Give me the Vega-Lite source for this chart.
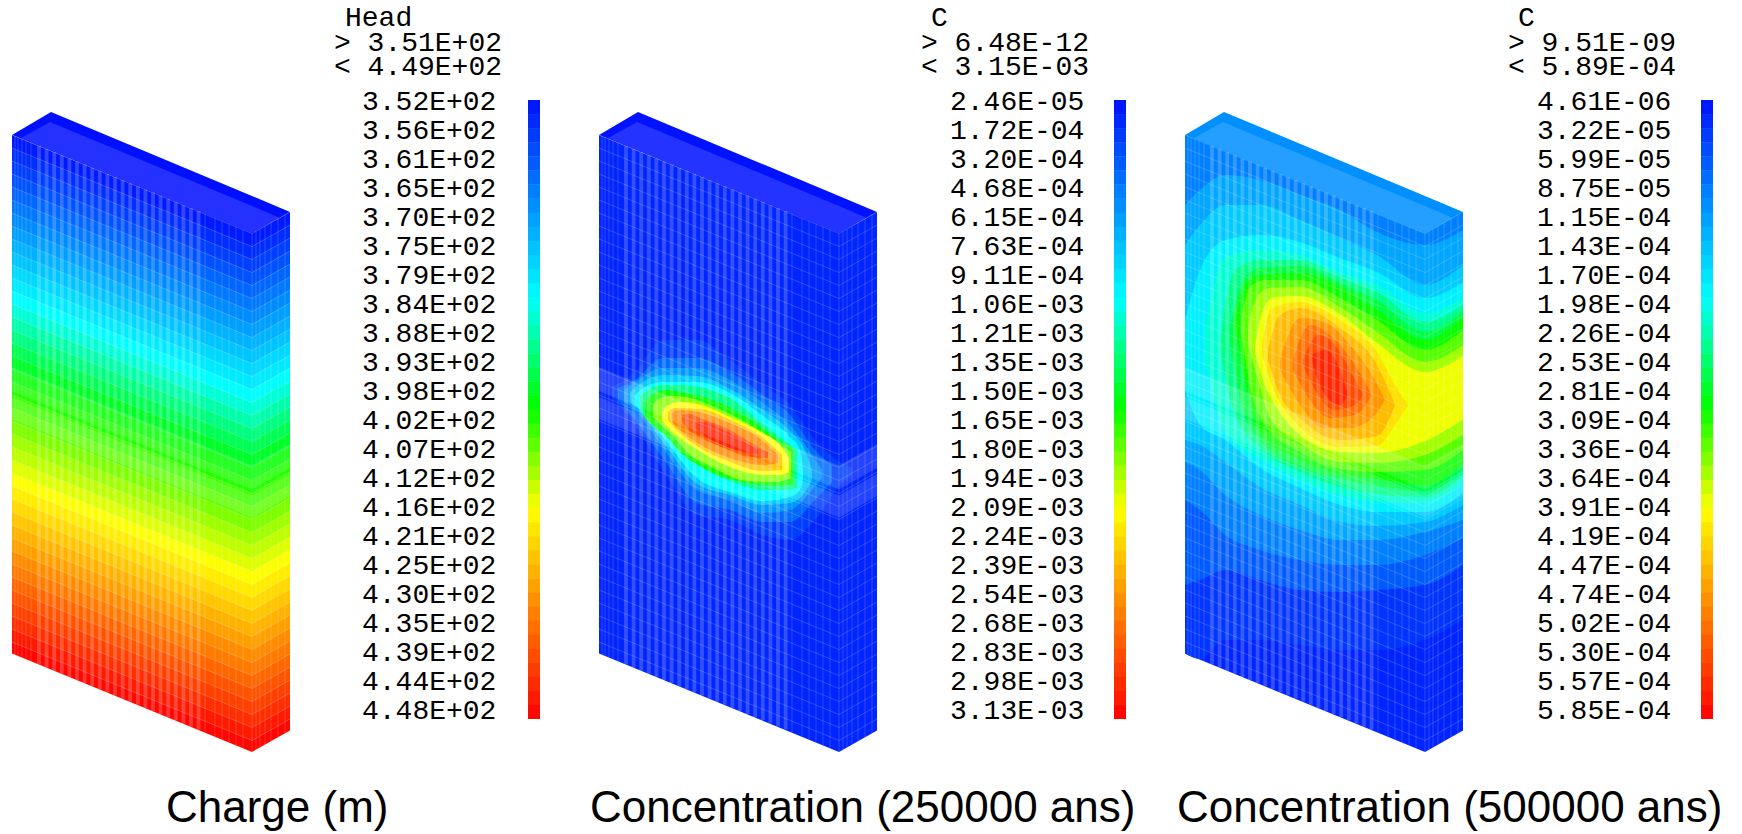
{"$schema":"https://vega.github.io/schema/vega-lite/v6.json","width":1742,"height":834,"autosize":{"type":"fit","contains":"padding"},"padding":0,"background":"#ffffff","config":{"view":{"stroke":null}},
"datasets":{
"grid":[
{"k":0,"x1":12,"x2":599,"x3":1185,"y":135,"y2":148.5,"v":352.3},{"k":0,"x1":252,"x2":839,"x3":1425,"y":233.5,"y2":247,"v":352.3},{"k":0,"x1":290,"x2":877,"x3":1463,"y":212,"y2":225.5,"v":352.3},
{"k":1,"x1":12,"x2":599,"x3":1185,"y":148,"y2":161.5,"v":354.7},{"k":1,"x1":252,"x2":839,"x3":1425,"y":246.5,"y2":260,"v":354.7},{"k":1,"x1":290,"x2":877,"x3":1463,"y":225,"y2":238.5,"v":354.7},
{"k":2,"x1":12,"x2":599,"x3":1185,"y":161,"y2":174.5,"v":357.2},{"k":2,"x1":252,"x2":839,"x3":1425,"y":259.5,"y2":273,"v":357.2},{"k":2,"x1":290,"x2":877,"x3":1463,"y":238,"y2":251.5,"v":357.2},
{"k":3,"x1":12,"x2":599,"x3":1185,"y":174,"y2":187.5,"v":359.7},{"k":3,"x1":252,"x2":839,"x3":1425,"y":272.5,"y2":286,"v":359.7},{"k":3,"x1":290,"x2":877,"x3":1463,"y":251,"y2":264.5,"v":359.7},
{"k":4,"x1":12,"x2":599,"x3":1185,"y":187,"y2":200.5,"v":362.3},{"k":4,"x1":252,"x2":839,"x3":1425,"y":285.5,"y2":299,"v":362.3},{"k":4,"x1":290,"x2":877,"x3":1463,"y":264,"y2":277.5,"v":362.3},
{"k":5,"x1":12,"x2":599,"x3":1185,"y":200,"y2":213.5,"v":364.7},{"k":5,"x1":252,"x2":839,"x3":1425,"y":298.5,"y2":312,"v":364.7},{"k":5,"x1":290,"x2":877,"x3":1463,"y":277,"y2":290.5,"v":364.7},
{"k":6,"x1":12,"x2":599,"x3":1185,"y":213,"y2":226.5,"v":367.3},{"k":6,"x1":252,"x2":839,"x3":1425,"y":311.5,"y2":325,"v":367.3},{"k":6,"x1":290,"x2":877,"x3":1463,"y":290,"y2":303.5,"v":367.3},
{"k":7,"x1":12,"x2":599,"x3":1185,"y":226,"y2":239.5,"v":369.7},{"k":7,"x1":252,"x2":839,"x3":1425,"y":324.5,"y2":338,"v":369.7},{"k":7,"x1":290,"x2":877,"x3":1463,"y":303,"y2":316.5,"v":369.7},
{"k":8,"x1":12,"x2":599,"x3":1185,"y":239,"y2":252.5,"v":372.3},{"k":8,"x1":252,"x2":839,"x3":1425,"y":337.5,"y2":351,"v":372.3},{"k":8,"x1":290,"x2":877,"x3":1463,"y":316,"y2":329.5,"v":372.3},
{"k":9,"x1":12,"x2":599,"x3":1185,"y":252,"y2":265.5,"v":374.7},{"k":9,"x1":252,"x2":839,"x3":1425,"y":350.5,"y2":364,"v":374.7},{"k":9,"x1":290,"x2":877,"x3":1463,"y":329,"y2":342.5,"v":374.7},
{"k":10,"x1":12,"x2":599,"x3":1185,"y":265,"y2":278.5,"v":377.3},{"k":10,"x1":252,"x2":839,"x3":1425,"y":363.5,"y2":377,"v":377.3},{"k":10,"x1":290,"x2":877,"x3":1463,"y":342,"y2":355.5,"v":377.3},
{"k":11,"x1":12,"x2":599,"x3":1185,"y":278,"y2":291.5,"v":379.7},{"k":11,"x1":252,"x2":839,"x3":1425,"y":376.5,"y2":390,"v":379.7},{"k":11,"x1":290,"x2":877,"x3":1463,"y":355,"y2":368.5,"v":379.7},
{"k":12,"x1":12,"x2":599,"x3":1185,"y":291,"y2":304.5,"v":382.3},{"k":12,"x1":252,"x2":839,"x3":1425,"y":389.5,"y2":403,"v":382.3},{"k":12,"x1":290,"x2":877,"x3":1463,"y":368,"y2":381.5,"v":382.3},
{"k":13,"x1":12,"x2":599,"x3":1185,"y":304,"y2":317.5,"v":385.1},{"k":13,"x1":252,"x2":839,"x3":1425,"y":402.5,"y2":416,"v":385.1},{"k":13,"x1":290,"x2":877,"x3":1463,"y":381,"y2":394.5,"v":385.1},
{"k":14,"x1":12,"x2":599,"x3":1185,"y":317,"y2":330.5,"v":388},{"k":14,"x1":252,"x2":839,"x3":1425,"y":415.5,"y2":429,"v":388},{"k":14,"x1":290,"x2":877,"x3":1463,"y":394,"y2":407.5,"v":388},
{"k":15,"x1":12,"x2":599,"x3":1185,"y":330,"y2":343.5,"v":390.9},{"k":15,"x1":252,"x2":839,"x3":1425,"y":428.5,"y2":442,"v":390.9},{"k":15,"x1":290,"x2":877,"x3":1463,"y":407,"y2":420.5,"v":390.9},
{"k":16,"x1":12,"x2":599,"x3":1185,"y":343,"y2":356.5,"v":393.8},{"k":16,"x1":252,"x2":839,"x3":1425,"y":441.5,"y2":455,"v":393.8},{"k":16,"x1":290,"x2":877,"x3":1463,"y":420,"y2":433.5,"v":393.8},
{"k":17,"x1":12,"x2":599,"x3":1185,"y":356,"y2":369.5,"v":396.8},{"k":17,"x1":252,"x2":839,"x3":1425,"y":454.5,"y2":468,"v":396.8},{"k":17,"x1":290,"x2":877,"x3":1463,"y":433,"y2":446.5,"v":396.8},
{"k":18,"x1":12,"x2":599,"x3":1185,"y":369,"y2":382.5,"v":399.6},{"k":18,"x1":252,"x2":839,"x3":1425,"y":467.5,"y2":481,"v":399.6},{"k":18,"x1":290,"x2":877,"x3":1463,"y":446,"y2":459.5,"v":399.6},
{"k":19,"x1":12,"x2":599,"x3":1185,"y":382,"y2":395.5,"v":401.6},{"k":19,"x1":252,"x2":839,"x3":1425,"y":480.5,"y2":494,"v":401.6},{"k":19,"x1":290,"x2":877,"x3":1463,"y":459,"y2":472.5,"v":401.6},
{"k":20,"x1":12,"x2":599,"x3":1185,"y":395,"y2":408.5,"v":403.6},{"k":20,"x1":252,"x2":839,"x3":1425,"y":493.5,"y2":507,"v":403.6},{"k":20,"x1":290,"x2":877,"x3":1463,"y":472,"y2":485.5,"v":403.6},
{"k":21,"x1":12,"x2":599,"x3":1185,"y":408,"y2":421.5,"v":405.6},{"k":21,"x1":252,"x2":839,"x3":1425,"y":506.5,"y2":520,"v":405.6},{"k":21,"x1":290,"x2":877,"x3":1463,"y":485,"y2":498.5,"v":405.6},
{"k":22,"x1":12,"x2":599,"x3":1185,"y":421,"y2":434.5,"v":407.5},{"k":22,"x1":252,"x2":839,"x3":1425,"y":519.5,"y2":533,"v":407.5},{"k":22,"x1":290,"x2":877,"x3":1463,"y":498,"y2":511.5,"v":407.5},
{"k":23,"x1":12,"x2":599,"x3":1185,"y":434,"y2":447.5,"v":409.6},{"k":23,"x1":252,"x2":839,"x3":1425,"y":532.5,"y2":546,"v":409.6},{"k":23,"x1":290,"x2":877,"x3":1463,"y":511,"y2":524.5,"v":409.6},
{"k":24,"x1":12,"x2":599,"x3":1185,"y":447,"y2":460.5,"v":411.6},{"k":24,"x1":252,"x2":839,"x3":1425,"y":545.5,"y2":559,"v":411.6},{"k":24,"x1":290,"x2":877,"x3":1463,"y":524,"y2":537.5,"v":411.6},
{"k":25,"x1":12,"x2":599,"x3":1185,"y":460,"y2":473.5,"v":413.6},{"k":25,"x1":252,"x2":839,"x3":1425,"y":558.5,"y2":572,"v":413.6},{"k":25,"x1":290,"x2":877,"x3":1463,"y":537,"y2":550.5,"v":413.6},
{"k":26,"x1":12,"x2":599,"x3":1185,"y":473,"y2":486.5,"v":415.6},{"k":26,"x1":252,"x2":839,"x3":1425,"y":571.5,"y2":585,"v":415.6},{"k":26,"x1":290,"x2":877,"x3":1463,"y":550,"y2":563.5,"v":415.6},
{"k":27,"x1":12,"x2":599,"x3":1185,"y":486,"y2":499.5,"v":418.1},{"k":27,"x1":252,"x2":839,"x3":1425,"y":584.5,"y2":598,"v":418.1},{"k":27,"x1":290,"x2":877,"x3":1463,"y":563,"y2":576.5,"v":418.1},
{"k":28,"x1":12,"x2":599,"x3":1185,"y":499,"y2":512.5,"v":420.6},{"k":28,"x1":252,"x2":839,"x3":1425,"y":597.5,"y2":611,"v":420.6},{"k":28,"x1":290,"x2":877,"x3":1463,"y":576,"y2":589.5,"v":420.6},
{"k":29,"x1":12,"x2":599,"x3":1185,"y":512,"y2":525.5,"v":423.1},{"k":29,"x1":252,"x2":839,"x3":1425,"y":610.5,"y2":624,"v":423.1},{"k":29,"x1":290,"x2":877,"x3":1463,"y":589,"y2":602.5,"v":423.1},
{"k":30,"x1":12,"x2":599,"x3":1185,"y":525,"y2":538.5,"v":425.6},{"k":30,"x1":252,"x2":839,"x3":1425,"y":623.5,"y2":637,"v":425.6},{"k":30,"x1":290,"x2":877,"x3":1463,"y":602,"y2":615.5,"v":425.6},
{"k":31,"x1":12,"x2":599,"x3":1185,"y":538,"y2":551.5,"v":428.1},{"k":31,"x1":252,"x2":839,"x3":1425,"y":636.5,"y2":650,"v":428.1},{"k":31,"x1":290,"x2":877,"x3":1463,"y":615,"y2":628.5,"v":428.1},
{"k":32,"x1":12,"x2":599,"x3":1185,"y":551,"y2":564.5,"v":430.7},{"k":32,"x1":252,"x2":839,"x3":1425,"y":649.5,"y2":663,"v":430.7},{"k":32,"x1":290,"x2":877,"x3":1463,"y":628,"y2":641.5,"v":430.7},
{"k":33,"x1":12,"x2":599,"x3":1185,"y":564,"y2":577.5,"v":433.1},{"k":33,"x1":252,"x2":839,"x3":1425,"y":662.5,"y2":676,"v":433.1},{"k":33,"x1":290,"x2":877,"x3":1463,"y":641,"y2":654.5,"v":433.1},
{"k":34,"x1":12,"x2":599,"x3":1185,"y":577,"y2":590.5,"v":435.7},{"k":34,"x1":252,"x2":839,"x3":1425,"y":675.5,"y2":689,"v":435.7},{"k":34,"x1":290,"x2":877,"x3":1463,"y":654,"y2":667.5,"v":435.7},
{"k":35,"x1":12,"x2":599,"x3":1185,"y":590,"y2":603.5,"v":438.1},{"k":35,"x1":252,"x2":839,"x3":1425,"y":688.5,"y2":702,"v":438.1},{"k":35,"x1":290,"x2":877,"x3":1463,"y":667,"y2":680.5,"v":438.1},
{"k":36,"x1":12,"x2":599,"x3":1185,"y":603,"y2":616.5,"v":440.7},{"k":36,"x1":252,"x2":839,"x3":1425,"y":701.5,"y2":715,"v":440.7},{"k":36,"x1":290,"x2":877,"x3":1463,"y":680,"y2":693.5,"v":440.7},
{"k":37,"x1":12,"x2":599,"x3":1185,"y":616,"y2":629.5,"v":443.1},{"k":37,"x1":252,"x2":839,"x3":1425,"y":714.5,"y2":728,"v":443.1},{"k":37,"x1":290,"x2":877,"x3":1463,"y":693,"y2":706.5,"v":443.1},
{"k":38,"x1":12,"x2":599,"x3":1185,"y":629,"y2":642.5,"v":445.7},{"k":38,"x1":252,"x2":839,"x3":1425,"y":727.5,"y2":741,"v":445.7},{"k":38,"x1":290,"x2":877,"x3":1463,"y":706,"y2":719.5,"v":445.7},
{"k":39,"x1":12,"x2":599,"x3":1185,"y":642,"y2":653.5,"v":448.1},{"k":39,"x1":252,"x2":839,"x3":1425,"y":740.5,"y2":752,"v":448.1},{"k":39,"x1":290,"x2":877,"x3":1463,"y":719,"y2":730.5,"v":448.1}
],
"base":[
{"x1":12,"x2":599,"x3":1185,"y":135,"y2":653.5,"v2":9e-5,"v3":1.6e-5},
{"x1":252,"x2":839,"x3":1425,"y":233.5,"y2":752,"v2":9e-5,"v3":1.6e-5},
{"x1":290,"x2":877,"x3":1463,"y":212,"y2":730.5,"v2":9e-5,"v3":1.6e-5}
],
"top":[
{"x1":12,"x2":599,"x3":1185,"y":135,"y2":135,"v1":351,"v2":1e-5,"v3":1e-4},
{"x1":51,"x2":638,"x3":1224,"y":112,"y2":151,"v1":351,"v2":1e-5,"v3":1e-4},
{"x1":252,"x2":839,"x3":1425,"y":196,"y2":234,"v1":351,"v2":1e-5,"v3":1e-4},
{"x1":290,"x2":877,"x3":1463,"y":212,"y2":212,"v1":351,"v2":1e-5,"v3":1e-4}
],
"overlay":[
{"s":"inner","x1":21,"x2":608,"x3":1194,"y":138,"y2":138},{"s":"inner","x1":50,"x2":637,"x3":1223,"y":122,"y2":150},{"s":"inner","x1":252,"x2":839,"x3":1425,"y":206,"y2":233},{"s":"inner","x1":280,"x2":867,"x3":1453,"y":218,"y2":218},
{"s":"zone1","x1":12,"x2":599,"x3":1185,"y":367,"y2":391},{"s":"zone1","x1":252,"x2":839,"x3":1425,"y":465.5,"y2":489.5},{"s":"zone1","x1":290,"x2":877,"x3":1463,"y":444,"y2":468},
{"s":"zone2","x1":12,"x2":599,"x3":1185,"y":397,"y2":419},{"s":"zone2","x1":252,"x2":839,"x3":1425,"y":495.5,"y2":517.5},{"s":"zone2","x1":290,"x2":877,"x3":1463,"y":474,"y2":496}
],
"stripes":[
{"x1":39,"x2":626,"x3":1212,"y":146,"y2":664.5},{"x1":46.6,"x2":633.6,"x3":1219.6,"y":149.1,"y2":667.6},{"x1":54.2,"x2":641.2,"x3":1227.2,"y":152.2,"y2":670.7},{"x1":61.8,"x2":648.8,"x3":1234.8,"y":155.3,"y2":673.8},{"x1":69.4,"x2":656.4,"x3":1242.4,"y":158.4,"y2":676.9},{"x1":77,"x2":664,"x3":1250,"y":161.5,"y2":680},{"x1":84.6,"x2":671.6,"x3":1257.6,"y":164.6,"y2":683.1},{"x1":92.2,"x2":679.2,"x3":1265.2,"y":167.7,"y2":686.2},{"x1":99.8,"x2":686.8,"x3":1272.8,"y":170.8,"y2":689.3},{"x1":107.4,"x2":694.4,"x3":1280.4,"y":173.9,"y2":692.4},{"x1":115,"x2":702,"x3":1288,"y":177,"y2":695.5},{"x1":122.6,"x2":709.6,"x3":1295.6,"y":180.1,"y2":698.6},{"x1":130.2,"x2":717.2,"x3":1303.2,"y":183.2,"y2":701.7},{"x1":137.8,"x2":724.8,"x3":1310.8,"y":186.3,"y2":704.8},{"x1":145.4,"x2":732.4,"x3":1318.4,"y":189.4,"y2":707.9},{"x1":153,"x2":740,"x3":1326,"y":192.5,"y2":711},{"x1":160.6,"x2":747.6,"x3":1333.6,"y":195.6,"y2":714.1},{"x1":168.2,"x2":755.2,"x3":1341.2,"y":198.7,"y2":717.2},{"x1":175.8,"x2":762.8,"x3":1348.8,"y":201.8,"y2":720.3},{"x1":183.4,"x2":770.4,"x3":1356.4,"y":204.9,"y2":723.4},{"x1":191,"x2":778,"x3":1364,"y":208,"y2":726.5},{"x1":198.6,"x2":785.6,"x3":1371.6,"y":211.1,"y2":729.6}
],
"lines":[
{"x1":15,"x2":602,"x3":1188,"y":136.2,"y2":654.7},{"x1":18,"x2":605,"x3":1191,"y":137.4,"y2":655.9},{"x1":22,"x2":609,"x3":1195,"y":139.1,"y2":657.6},{"x1":26,"x2":613,"x3":1199,"y":140.7,"y2":659.2},{"x1":31,"x2":618,"x3":1204,"y":142.8,"y2":661.3},
{"x1":205,"x2":792,"x3":1378,"y":213.7,"y2":732.2},{"x1":215,"x2":802,"x3":1388,"y":217.8,"y2":736.3},{"x1":222,"x2":809,"x3":1395,"y":220.7,"y2":739.2},{"x1":229,"x2":816,"x3":1402,"y":223.5,"y2":742},{"x1":236,"x2":823,"x3":1409,"y":226.4,"y2":744.9},{"x1":243,"x2":830,"x3":1416,"y":229.2,"y2":747.7},{"x1":252,"x2":839,"x3":1425,"y":233.5,"y2":752},
{"x1":256,"x2":843,"x3":1429,"y":231.2,"y2":749.7},{"x1":260,"x2":847,"x3":1433,"y":229,"y2":747.5},{"x1":265,"x2":852,"x3":1438,"y":226.1,"y2":744.6},{"x1":271,"x2":858,"x3":1444,"y":222.7,"y2":741.2},{"x1":278,"x2":865,"x3":1451,"y":218.8,"y2":737.3},{"x1":285,"x2":872,"x3":1458,"y":214.8,"y2":733.3}
],
"bar":[
{"y":100,"y2":114.5,"t":0.011},{"y":114.07,"y2":128.6,"t":0.034},{"y":128.14,"y2":142.6,"t":0.057},{"y":142.21,"y2":156.7,"t":0.08},{"y":156.28,"y2":170.8,"t":0.102},{"y":170.35,"y2":184.8,"t":0.125},{"y":184.42,"y2":198.9,"t":0.148},{"y":198.49,"y2":213,"t":0.17},{"y":212.56,"y2":227,"t":0.193},{"y":226.63,"y2":241.1,"t":0.216},{"y":240.7,"y2":255.2,"t":0.239},{"y":254.77,"y2":269.3,"t":0.261},{"y":268.84,"y2":283.3,"t":0.284},{"y":282.91,"y2":297.4,"t":0.307},{"y":296.98,"y2":311.5,"t":0.33},{"y":311.05,"y2":325.5,"t":0.352},{"y":325.12,"y2":339.6,"t":0.375},{"y":339.19,"y2":353.7,"t":0.398},{"y":353.26,"y2":367.8,"t":0.42},{"y":367.33,"y2":381.8,"t":0.443},{"y":381.4,"y2":395.9,"t":0.466},{"y":395.47,"y2":410,"t":0.489},{"y":409.54,"y2":424,"t":0.511},{"y":423.61,"y2":438.1,"t":0.534},{"y":437.68,"y2":452.2,"t":0.557},{"y":451.75,"y2":466.3,"t":0.58},{"y":465.82,"y2":480.3,"t":0.602},{"y":479.89,"y2":494.4,"t":0.625},{"y":493.96,"y2":508.5,"t":0.648},{"y":508.03,"y2":522.5,"t":0.67},{"y":522.1,"y2":536.6,"t":0.693},{"y":536.17,"y2":550.7,"t":0.716},{"y":550.24,"y2":564.8,"t":0.739},{"y":564.31,"y2":578.8,"t":0.761},{"y":578.38,"y2":592.9,"t":0.784},{"y":592.45,"y2":607,"t":0.807},{"y":606.52,"y2":621,"t":0.83},{"y":620.59,"y2":635.1,"t":0.852},{"y":634.66,"y2":649.2,"t":0.875},{"y":648.73,"y2":663.3,"t":0.898},{"y":662.8,"y2":677.3,"t":0.92},{"y":676.87,"y2":691.4,"t":0.943},{"y":690.94,"y2":705.5,"t":0.966},{"y":705.01,"y2":719,"t":0.989}
],
"c2":[
{"s":"a","x":612,"y":387,"y2":397,"v":1.89e-4},{"s":"a","x":635,"y":372,"y2":425,"v":1.89e-4},{"s":"a","x":663,"y":340,"y2":470,"v":1.89e-4},{"s":"a","x":697,"y":340,"y2":515,"v":1.89e-4},{"s":"a","x":730,"y":360,"y2":520,"v":1.89e-4},{"s":"a","x":763,"y":385,"y2":535,"v":1.89e-4},{"s":"a","x":790,"y":405,"y2":540,"v":1.89e-4},{"s":"a","x":815,"y":440,"y2":520,"v":1.89e-4},{"s":"a","x":840,"y":462,"y2":485,"v":1.89e-4},{"s":"a","x":852,"y":468,"y2":476,"v":1.89e-4},
{"s":"b","x":618,"y":388,"y2":400,"v":3.78e-4},{"s":"b","x":635,"y":380,"y2":420,"v":3.78e-4},{"s":"b","x":663,"y":358,"y2":458,"v":3.78e-4},{"s":"b","x":697,"y":358,"y2":503,"v":3.78e-4},{"s":"b","x":730,"y":372,"y2":510,"v":3.78e-4},{"s":"b","x":763,"y":395,"y2":522,"v":3.78e-4},{"s":"b","x":790,"y":415,"y2":522,"v":3.78e-4},{"s":"b","x":815,"y":450,"y2":500,"v":3.78e-4},{"s":"b","x":832,"y":466,"y2":482,"v":3.78e-4},
{"s":"c","x":624,"y":390,"y2":402,"v":5.67e-4},{"s":"c","x":635,"y":382,"y2":410,"v":5.67e-4},{"s":"c","x":663,"y":368,"y2":448,"v":5.67e-4},{"s":"c","x":697,"y":368,"y2":490,"v":5.67e-4},{"s":"c","x":730,"y":380,"y2":500,"v":5.67e-4},{"s":"c","x":763,"y":403,"y2":513,"v":5.67e-4},{"s":"c","x":790,"y":425,"y2":510,"v":5.67e-4},{"s":"c","x":812,"y":455,"y2":490,"v":5.67e-4},{"s":"c","x":822,"y":470,"y2":478,"v":5.67e-4},
{"s":"d","x":630,"y":392,"y2":402,"v":7.88e-4},{"s":"d","x":640,"y":384,"y2":412,"v":7.88e-4},{"s":"d","x":663,"y":375,"y2":442,"v":7.88e-4},{"s":"d","x":697,"y":376,"y2":484,"v":7.88e-4},{"s":"d","x":730,"y":389,"y2":495,"v":7.88e-4},{"s":"d","x":763,"y":410,"y2":505,"v":7.88e-4},{"s":"d","x":790,"y":431,"y2":503,"v":7.88e-4},{"s":"d","x":805,"y":450,"y2":492,"v":7.88e-4},{"s":"d","x":812,"y":470,"y2":480,"v":7.88e-4},
{"s":"e","x":635,"y":395,"y2":405,"v":1.01e-3},{"s":"e","x":645,"y":387,"y2":415,"v":1.01e-3},{"s":"e","x":663,"y":382,"y2":437,"v":1.01e-3},{"s":"e","x":697,"y":382,"y2":478,"v":1.01e-3},{"s":"e","x":730,"y":393,"y2":492,"v":1.01e-3},{"s":"e","x":763,"y":416,"y2":501,"v":1.01e-3},{"s":"e","x":790,"y":437,"y2":497,"v":1.01e-3},{"s":"e","x":800,"y":450,"y2":490,"v":1.01e-3},{"s":"e","x":803,"y":470,"y2":478,"v":1.01e-3},
{"s":"f","x":640,"y":397,"y2":410,"v":1.26e-3},{"s":"f","x":648,"y":390,"y2":420,"v":1.26e-3},{"s":"f","x":663,"y":385,"y2":432,"v":1.26e-3},{"s":"f","x":680,"y":385,"y2":447,"v":1.26e-3},{"s":"f","x":707,"y":389,"y2":471,"v":1.26e-3},{"s":"f","x":730,"y":398,"y2":481,"v":1.26e-3},{"s":"f","x":763,"y":424,"y2":490,"v":1.26e-3},{"s":"f","x":785,"y":441,"y2":490,"v":1.26e-3},{"s":"f","x":797,"y":450,"y2":488,"v":1.26e-3},
{"s":"g","x":645,"y":402,"y2":418,"v":1.58e-3},{"s":"g","x":652,"y":395,"y2":425,"v":1.58e-3},{"s":"g","x":667,"y":390,"y2":437,"v":1.58e-3},{"s":"g","x":680,"y":392,"y2":452,"v":1.58e-3},{"s":"g","x":707,"y":398,"y2":470,"v":1.58e-3},{"s":"g","x":747,"y":417,"y2":483,"v":1.58e-3},{"s":"g","x":775,"y":437,"y2":486,"v":1.58e-3},{"s":"g","x":793,"y":448,"y2":484,"v":1.58e-3},
{"s":"h","x":653,"y":405,"y2":417,"v":1.83e-3},{"s":"h","x":660,"y":398,"y2":424,"v":1.83e-3},{"s":"h","x":672,"y":396,"y2":435,"v":1.83e-3},{"s":"h","x":690,"y":398,"y2":455,"v":1.83e-3},{"s":"h","x":710,"y":405,"y2":466,"v":1.83e-3},{"s":"h","x":747,"y":423,"y2":481,"v":1.83e-3},{"s":"h","x":775,"y":441,"y2":482,"v":1.83e-3},{"s":"h","x":791,"y":452,"y2":478,"v":1.83e-3},
{"s":"i","x":662,"y":412,"y2":420,"v":2.08e-3},{"s":"i","x":668,"y":405,"y2":428,"v":2.08e-3},{"s":"i","x":680,"y":402,"y2":438,"v":2.08e-3},{"s":"i","x":693,"y":403,"y2":447,"v":2.08e-3},{"s":"i","x":730,"y":417,"y2":467,"v":2.08e-3},{"s":"i","x":763,"y":433,"y2":475,"v":2.08e-3},{"s":"i","x":780,"y":445,"y2":475,"v":2.08e-3},{"s":"i","x":789,"y":458,"y2":472,"v":2.08e-3},
{"s":"j","x":668,"y":412,"y2":420,"v":2.33e-3},{"s":"j","x":675,"y":408,"y2":428,"v":2.33e-3},{"s":"j","x":700,"y":409,"y2":448,"v":2.33e-3},{"s":"j","x":730,"y":420,"y2":462,"v":2.33e-3},{"s":"j","x":763,"y":438,"y2":471,"v":2.33e-3},{"s":"j","x":782,"y":455,"y2":470,"v":2.33e-3},
{"s":"k","x":672,"y":412,"y2":422,"v":2.58e-3},{"s":"k","x":680,"y":410,"y2":430,"v":2.58e-3},{"s":"k","x":693,"y":411,"y2":440,"v":2.58e-3},{"s":"k","x":730,"y":423,"y2":458,"v":2.58e-3},{"s":"k","x":763,"y":441,"y2":465,"v":2.58e-3},{"s":"k","x":778,"y":455,"y2":463,"v":2.58e-3},
{"s":"l","x":682,"y":415,"y2":422,"v":2.84e-3},{"s":"l","x":690,"y":414,"y2":431,"v":2.84e-3},{"s":"l","x":700,"y":418,"y2":437,"v":2.84e-3},{"s":"l","x":730,"y":430,"y2":450,"v":2.84e-3},{"s":"l","x":750,"y":442,"y2":457,"v":2.84e-3},{"s":"l","x":768,"y":452,"y2":458,"v":2.84e-3},
{"s":"m","x":695,"y":422,"y2":428,"v":3.02e-3},{"s":"m","x":705,"y":422,"y2":436,"v":3.02e-3},{"s":"m","x":720,"y":428,"y2":444,"v":3.02e-3},{"s":"m","x":745,"y":442,"y2":452,"v":3.02e-3},{"s":"m","x":758,"y":450,"y2":454,"v":3.02e-3}
],
"c3":[
{"s":"a","x":1185,"y":135,"y2":653.5,"v":2.9e-5},{"s":"a","x":1200,"y":135,"y2":659,"v":2.9e-5},{"s":"a","x":1225,"y":135,"y2":640,"v":2.9e-5},{"s":"a","x":1260,"y":150,"y2":640,"v":2.9e-5},{"s":"a","x":1300,"y":165,"y2":645,"v":2.9e-5},{"s":"a","x":1340,"y":182,"y2":650,"v":2.9e-5},{"s":"a","x":1377,"y":197,"y2":650,"v":2.9e-5},{"s":"a","x":1425,"y":215,"y2":640,"v":2.9e-5},{"s":"a","x":1463,"y":212,"y2":620,"v":2.9e-5},
{"s":"b","x":1185,"y":135,"y2":585,"v":5.9e-5},{"s":"b","x":1200,"y":135,"y2":580,"v":5.9e-5},{"s":"b","x":1225,"y":135,"y2":570,"v":5.9e-5},{"s":"b","x":1260,"y":150,"y2":580,"v":5.9e-5},{"s":"b","x":1300,"y":165,"y2":590,"v":5.9e-5},{"s":"b","x":1340,"y":182,"y2":592,"v":5.9e-5},{"s":"b","x":1377,"y":197,"y2":590,"v":5.9e-5},{"s":"b","x":1425,"y":215,"y2":585,"v":5.9e-5},{"s":"b","x":1463,"y":212,"y2":565,"v":5.9e-5},
{"s":"c","x":1185,"y":135,"y2":500,"v":8.8e-5},{"s":"c","x":1200,"y":135,"y2":510,"v":8.8e-5},{"s":"c","x":1225,"y":135,"y2":535,"v":8.8e-5},{"s":"c","x":1260,"y":150,"y2":550,"v":8.8e-5},{"s":"c","x":1300,"y":165,"y2":560,"v":8.8e-5},{"s":"c","x":1340,"y":182,"y2":565,"v":8.8e-5},{"s":"c","x":1377,"y":197,"y2":565,"v":8.8e-5},{"s":"c","x":1425,"y":215,"y2":555,"v":8.8e-5},{"s":"c","x":1463,"y":212,"y2":538,"v":8.8e-5},
{"s":"d","x":1185,"y":205,"y2":462,"v":1.18e-4},{"s":"d","x":1200,"y":190,"y2":470,"v":1.18e-4},{"s":"d","x":1225,"y":175,"y2":495,"v":1.18e-4},{"s":"d","x":1260,"y":180,"y2":515,"v":1.18e-4},{"s":"d","x":1300,"y":195,"y2":530,"v":1.18e-4},{"s":"d","x":1340,"y":210,"y2":540,"v":1.18e-4},{"s":"d","x":1377,"y":232,"y2":540,"v":1.18e-4},{"s":"d","x":1425,"y":245,"y2":532,"v":1.18e-4},{"s":"d","x":1463,"y":230,"y2":520,"v":1.18e-4},
{"s":"e","x":1185,"y":245,"y2":440,"v":1.47e-4},{"s":"e","x":1200,"y":225,"y2":445,"v":1.47e-4},{"s":"e","x":1225,"y":205,"y2":462,"v":1.47e-4},{"s":"e","x":1260,"y":205,"y2":487,"v":1.47e-4},{"s":"e","x":1300,"y":220,"y2":505,"v":1.47e-4},{"s":"e","x":1340,"y":238,"y2":522,"v":1.47e-4},{"s":"e","x":1377,"y":255,"y2":526,"v":1.47e-4},{"s":"e","x":1425,"y":285,"y2":522,"v":1.47e-4},{"s":"e","x":1463,"y":265,"y2":505,"v":1.47e-4},
{"s":"f","x":1185,"y":320,"y2":390,"v":1.77e-4},{"s":"f","x":1200,"y":270,"y2":425,"v":1.77e-4},{"s":"f","x":1225,"y":240,"y2":440,"v":1.77e-4},{"s":"f","x":1260,"y":235,"y2":468,"v":1.77e-4},{"s":"f","x":1300,"y":242,"y2":488,"v":1.77e-4},{"s":"f","x":1340,"y":258,"y2":505,"v":1.77e-4},{"s":"f","x":1377,"y":272,"y2":512,"v":1.77e-4},{"s":"f","x":1425,"y":298,"y2":512,"v":1.77e-4},{"s":"f","x":1463,"y":282,"y2":493,"v":1.77e-4},
{"s":"g","x":1205,"y":330,"y2":360,"v":2.06e-4},{"s":"g","x":1225,"y":257,"y2":430,"v":2.06e-4},{"s":"g","x":1260,"y":250,"y2":458,"v":2.06e-4},{"s":"g","x":1300,"y":255,"y2":480,"v":2.06e-4},{"s":"g","x":1340,"y":272,"y2":495,"v":2.06e-4},{"s":"g","x":1377,"y":285,"y2":502,"v":2.06e-4},{"s":"g","x":1425,"y":313,"y2":503,"v":2.06e-4},{"s":"g","x":1463,"y":298,"y2":482,"v":2.06e-4},
{"s":"h","x":1220,"y":340,"y2":350,"v":2.36e-4},{"s":"h","x":1235,"y":270,"y2":415,"v":2.36e-4},{"s":"h","x":1260,"y":260,"y2":448,"v":2.36e-4},{"s":"h","x":1300,"y":260,"y2":472,"v":2.36e-4},{"s":"h","x":1340,"y":277,"y2":487,"v":2.36e-4},{"s":"h","x":1377,"y":292,"y2":494,"v":2.36e-4},{"s":"h","x":1425,"y":322,"y2":497,"v":2.36e-4},{"s":"h","x":1463,"y":305,"y2":475,"v":2.36e-4},
{"s":"i","x":1230,"y":330,"y2":340,"v":2.65e-4},{"s":"i","x":1243,"y":280,"y2":410,"v":2.65e-4},{"s":"i","x":1260,"y":268,"y2":440,"v":2.65e-4},{"s":"i","x":1300,"y":266,"y2":467,"v":2.65e-4},{"s":"i","x":1340,"y":283,"y2":479,"v":2.65e-4},{"s":"i","x":1377,"y":300,"y2":486,"v":2.65e-4},{"s":"i","x":1425,"y":332,"y2":491,"v":2.65e-4},{"s":"i","x":1463,"y":311,"y2":469,"v":2.65e-4},
{"s":"j","x":1235,"y":320,"y2":325,"v":2.95e-4},{"s":"j","x":1245,"y":285,"y2":380,"v":2.95e-4},{"s":"j","x":1260,"y":275,"y2":432,"v":2.95e-4},{"s":"j","x":1300,"y":273,"y2":460,"v":2.95e-4},{"s":"j","x":1340,"y":287,"y2":474,"v":2.95e-4},{"s":"j","x":1377,"y":310,"y2":479,"v":2.95e-4},{"s":"j","x":1425,"y":340,"y2":485,"v":2.95e-4},{"s":"j","x":1463,"y":317,"y2":463,"v":2.95e-4},
{"s":"k","x":1241,"y":320,"y2":330,"v":3.24e-4},{"s":"k","x":1250,"y":287,"y2":385,"v":3.24e-4},{"s":"k","x":1265,"y":280,"y2":425,"v":3.24e-4},{"s":"k","x":1300,"y":280,"y2":452,"v":3.24e-4},{"s":"k","x":1340,"y":298,"y2":469,"v":3.24e-4},{"s":"k","x":1377,"y":320,"y2":472,"v":3.24e-4},{"s":"k","x":1425,"y":350,"y2":470,"v":3.24e-4},{"s":"k","x":1463,"y":330,"y2":450,"v":3.24e-4},
{"s":"l","x":1248,"y":325,"y2":345,"v":3.53e-4},{"s":"l","x":1258,"y":295,"y2":380,"v":3.53e-4},{"s":"l","x":1270,"y":288,"y2":418,"v":3.53e-4},{"s":"l","x":1300,"y":287,"y2":443,"v":3.53e-4},{"s":"l","x":1340,"y":307,"y2":462,"v":3.53e-4},{"s":"l","x":1377,"y":332,"y2":463,"v":3.53e-4},{"s":"l","x":1425,"y":362,"y2":455,"v":3.53e-4},{"s":"l","x":1463,"y":345,"y2":435,"v":3.53e-4},
{"s":"m","x":1255,"y":345,"y2":352,"v":3.83e-4},{"s":"m","x":1265,"y":305,"y2":385,"v":3.83e-4},{"s":"m","x":1275,"y":297,"y2":405,"v":3.83e-4},{"s":"m","x":1300,"y":296,"y2":435,"v":3.83e-4},{"s":"m","x":1340,"y":314,"y2":452,"v":3.83e-4},{"s":"m","x":1377,"y":343,"y2":453,"v":3.83e-4},{"s":"m","x":1425,"y":372,"y2":441,"v":3.83e-4},{"s":"m","x":1463,"y":356,"y2":419,"v":3.83e-4},
{"s":"n","x":1262,"y":345,"y2":355,"v":4.12e-4},{"s":"n","x":1272,"y":308,"y2":385,"v":4.12e-4},{"s":"n","x":1300,"y":302,"y2":427,"v":4.12e-4},{"s":"n","x":1340,"y":320,"y2":447,"v":4.12e-4},{"s":"n","x":1377,"y":352,"y2":446,"v":4.12e-4},{"s":"n","x":1395,"y":385,"y2":425,"v":4.12e-4},{"s":"n","x":1408,"y":405,"y2":405,"v":4.12e-4},
{"s":"o","x":1268,"y":350,"y2":360,"v":4.42e-4},{"s":"o","x":1280,"y":315,"y2":395,"v":4.42e-4},{"s":"o","x":1300,"y":308,"y2":418,"v":4.42e-4},{"s":"o","x":1340,"y":328,"y2":440,"v":4.42e-4},{"s":"o","x":1377,"y":365,"y2":436,"v":4.42e-4},{"s":"o","x":1395,"y":405,"y2":405,"v":4.42e-4},
{"s":"p","x":1280,"y":360,"y2":370,"v":4.71e-4},{"s":"p","x":1300,"y":318,"y2":405,"v":4.71e-4},{"s":"p","x":1325,"y":322,"y2":428,"v":4.71e-4},{"s":"p","x":1350,"y":345,"y2":428,"v":4.71e-4},{"s":"p","x":1375,"y":380,"y2":415,"v":4.71e-4},{"s":"p","x":1385,"y":400,"y2":400,"v":4.71e-4},
{"s":"q","x":1293,"y":360,"y2":370,"v":5.01e-4},{"s":"q","x":1310,"y":325,"y2":400,"v":5.01e-4},{"s":"q","x":1330,"y":335,"y2":418,"v":5.01e-4},{"s":"q","x":1355,"y":365,"y2":415,"v":5.01e-4},{"s":"q","x":1372,"y":395,"y2":395,"v":5.01e-4},
{"s":"r","x":1303,"y":360,"y2":365,"v":5.3e-4},{"s":"r","x":1318,"y":335,"y2":395,"v":5.3e-4},{"s":"r","x":1335,"y":345,"y2":410,"v":5.3e-4},{"s":"r","x":1355,"y":380,"y2":405,"v":5.3e-4},{"s":"r","x":1363,"y":395,"y2":395,"v":5.3e-4},
{"s":"t","x":1312,"y":355,"y2":362,"v":5.6e-4},{"s":"t","x":1325,"y":350,"y2":395,"v":5.6e-4},{"s":"t","x":1340,"y":370,"y2":405,"v":5.6e-4},{"s":"t","x":1348,"y":395,"y2":395,"v":5.6e-4}
],
"mono":[
{"x":345,"y":18,"text":"Head"},{"x":334,"y":43,"text":"> 3.51E+02"},{"x":334,"y":67,"text":"< 4.49E+02"},
{"x":931,"y":18,"text":"C"},{"x":921,"y":43,"text":"> 6.48E-12"},{"x":921,"y":67,"text":"< 3.15E-03"},
{"x":1518,"y":18,"text":"C"},{"x":1508,"y":43,"text":"> 9.51E-09"},{"x":1508,"y":67,"text":"< 5.89E-04"},
{"x":362,"y":102,"text":"3.52E+02"},{"x":362,"y":131,"text":"3.56E+02"},{"x":362,"y":160,"text":"3.61E+02"},{"x":362,"y":189,"text":"3.65E+02"},{"x":362,"y":218,"text":"3.70E+02"},{"x":362,"y":247,"text":"3.75E+02"},{"x":362,"y":276,"text":"3.79E+02"},{"x":362,"y":305,"text":"3.84E+02"},{"x":362,"y":334,"text":"3.88E+02"},{"x":362,"y":363,"text":"3.93E+02"},{"x":362,"y":392,"text":"3.98E+02"},{"x":362,"y":421,"text":"4.02E+02"},{"x":362,"y":450,"text":"4.07E+02"},{"x":362,"y":479,"text":"4.12E+02"},{"x":362,"y":508,"text":"4.16E+02"},{"x":362,"y":537,"text":"4.21E+02"},{"x":362,"y":566,"text":"4.25E+02"},{"x":362,"y":595,"text":"4.30E+02"},{"x":362,"y":624,"text":"4.35E+02"},{"x":362,"y":653,"text":"4.39E+02"},{"x":362,"y":682,"text":"4.44E+02"},{"x":362,"y":711,"text":"4.48E+02"},
{"x":950,"y":102,"text":"2.46E-05"},{"x":950,"y":131,"text":"1.72E-04"},{"x":950,"y":160,"text":"3.20E-04"},{"x":950,"y":189,"text":"4.68E-04"},{"x":950,"y":218,"text":"6.15E-04"},{"x":950,"y":247,"text":"7.63E-04"},{"x":950,"y":276,"text":"9.11E-04"},{"x":950,"y":305,"text":"1.06E-03"},{"x":950,"y":334,"text":"1.21E-03"},{"x":950,"y":363,"text":"1.35E-03"},{"x":950,"y":392,"text":"1.50E-03"},{"x":950,"y":421,"text":"1.65E-03"},{"x":950,"y":450,"text":"1.80E-03"},{"x":950,"y":479,"text":"1.94E-03"},{"x":950,"y":508,"text":"2.09E-03"},{"x":950,"y":537,"text":"2.24E-03"},{"x":950,"y":566,"text":"2.39E-03"},{"x":950,"y":595,"text":"2.54E-03"},{"x":950,"y":624,"text":"2.68E-03"},{"x":950,"y":653,"text":"2.83E-03"},{"x":950,"y":682,"text":"2.98E-03"},{"x":950,"y":711,"text":"3.13E-03"},
{"x":1537,"y":102,"text":"4.61E-06"},{"x":1537,"y":131,"text":"3.22E-05"},{"x":1537,"y":160,"text":"5.99E-05"},{"x":1537,"y":189,"text":"8.75E-05"},{"x":1537,"y":218,"text":"1.15E-04"},{"x":1537,"y":247,"text":"1.43E-04"},{"x":1537,"y":276,"text":"1.70E-04"},{"x":1537,"y":305,"text":"1.98E-04"},{"x":1537,"y":334,"text":"2.26E-04"},{"x":1537,"y":363,"text":"2.53E-04"},{"x":1537,"y":392,"text":"2.81E-04"},{"x":1537,"y":421,"text":"3.09E-04"},{"x":1537,"y":450,"text":"3.36E-04"},{"x":1537,"y":479,"text":"3.64E-04"},{"x":1537,"y":508,"text":"3.91E-04"},{"x":1537,"y":537,"text":"4.19E-04"},{"x":1537,"y":566,"text":"4.47E-04"},{"x":1537,"y":595,"text":"4.74E-04"},{"x":1537,"y":624,"text":"5.02E-04"},{"x":1537,"y":653,"text":"5.30E-04"},{"x":1537,"y":682,"text":"5.57E-04"},{"x":1537,"y":711,"text":"5.85E-04"}
],
"titles":[{"x":166,"y":822,"text":"Charge (m)"},{"x":590,"y":822,"text":"Concentration (250000 ans)"},{"x":1177,"y":822,"text":"Concentration (500000 ans)"}]
},
"encoding":{"y":{"field":"y","type":"quantitative","scale":{"domain":[834,0]},"axis":null}},
"layer":[
{"data":{"name":"grid"},"mark":{"type":"area"},"encoding":{"x":{"field":"x1","type":"quantitative","scale":{"domain":[0,1742]},"axis":null},"y2":{"field":"y2"},"detail":{"field":"k"},"color":{"field":"v","type":"quantitative","legend":null,"scale":{"domain":[351,382.4,399.5,415.7,449],"range":["#0010ff","#00ffff","#00ff00","#ffff00","#ff0000"],"interpolate":"rgb"}}}},
{"data":{"name":"base"},"mark":{"type":"area"},"encoding":{"x":{"field":"x2","type":"quantitative","scale":{"domain":[0,1742]},"axis":null},"y2":{"field":"y2"},"color":{"field":"v2","type":"quantitative","legend":null,"scale":{"domain":[0,1.008e-3,1.559e-3,2.079e-3,3.15e-3],"range":["#0010ff","#00ffff","#00ff00","#ffff00","#ff0000"],"interpolate":"rgb"}}}},
{"data":{"name":"base"},"mark":{"type":"area"},"encoding":{"x":{"field":"x3","type":"quantitative","scale":{"domain":[0,1742]},"axis":null},"y2":{"field":"y2"},"color":{"field":"v3","type":"quantitative","legend":null,"scale":{"domain":[0,1.885e-4,2.916e-4,3.887e-4,5.89e-4],"range":["#0010ff","#00ffff","#00ff00","#ffff00","#ff0000"],"interpolate":"rgb"}}}},
{"data":{"name":"c2"},"mark":{"type":"area","interpolate":"monotone"},"encoding":{"x":{"field":"x","type":"quantitative","scale":{"domain":[0,1742]},"axis":null},"y2":{"field":"y2"},"detail":{"field":"s"},"color":{"field":"v","type":"quantitative","legend":null,"scale":{"domain":[0,1.008e-3,1.559e-3,2.079e-3,3.15e-3],"range":["#0010ff","#00ffff","#00ff00","#ffff00","#ff0000"],"interpolate":"rgb"}}}},
{"data":{"name":"c3"},"mark":{"type":"area","interpolate":"monotone"},"encoding":{"x":{"field":"x","type":"quantitative","scale":{"domain":[0,1742]},"axis":null},"y2":{"field":"y2"},"detail":{"field":"s"},"color":{"field":"v","type":"quantitative","legend":null,"scale":{"domain":[0,1.885e-4,2.916e-4,3.887e-4,5.89e-4],"range":["#0010ff","#00ffff","#00ff00","#ffff00","#ff0000"],"interpolate":"rgb"}}}},
{"data":{"name":"top"},"mark":{"type":"area"},"encoding":{"x":{"field":"x1","type":"quantitative","scale":{"domain":[0,1742]},"axis":null},"y2":{"field":"y2"},"color":{"field":"v1","type":"quantitative","legend":null,"scale":{"domain":[351,382.4,399.5,415.7,449],"range":["#0010ff","#00ffff","#00ff00","#ffff00","#ff0000"],"interpolate":"rgb"}}}},
{"data":{"name":"top"},"mark":{"type":"area"},"encoding":{"x":{"field":"x2","type":"quantitative","scale":{"domain":[0,1742]},"axis":null},"y2":{"field":"y2"},"color":{"field":"v2","type":"quantitative","legend":null,"scale":{"domain":[0,1.008e-3,1.559e-3,2.079e-3,3.15e-3],"range":["#0010ff","#00ffff","#00ff00","#ffff00","#ff0000"],"interpolate":"rgb"}}}},
{"data":{"name":"top"},"mark":{"type":"area"},"encoding":{"x":{"field":"x3","type":"quantitative","scale":{"domain":[0,1742]},"axis":null},"y2":{"field":"y2"},"color":{"field":"v3","type":"quantitative","legend":null,"scale":{"domain":[0,1.885e-4,2.916e-4,3.887e-4,5.89e-4],"range":["#0010ff","#00ffff","#00ff00","#ffff00","#ff0000"],"interpolate":"rgb"}}}},
{"data":{"name":"overlay"},"mark":{"type":"area","color":"#ffffff","opacity":0.14},"encoding":{"x":{"field":"x1","type":"quantitative","scale":{"domain":[0,1742]},"axis":null},"y2":{"field":"y2"},"detail":{"field":"s"}}},
{"data":{"name":"overlay"},"mark":{"type":"area","color":"#ffffff","opacity":0.14},"encoding":{"x":{"field":"x2","type":"quantitative","scale":{"domain":[0,1742]},"axis":null},"y2":{"field":"y2"},"detail":{"field":"s"}}},
{"data":{"name":"overlay"},"mark":{"type":"area","color":"#ffffff","opacity":0.14},"encoding":{"x":{"field":"x3","type":"quantitative","scale":{"domain":[0,1742]},"axis":null},"y2":{"field":"y2"},"detail":{"field":"s"}}},
{"data":{"name":"grid"},"mark":{"type":"line","color":"#ffffff","opacity":0.2,"strokeWidth":0.9},"encoding":{"x":{"field":"x1","type":"quantitative","scale":{"domain":[0,1742]},"axis":null},"detail":{"field":"k"}}},
{"data":{"name":"grid"},"mark":{"type":"line","color":"#ffffff","opacity":0.2,"strokeWidth":0.9},"encoding":{"x":{"field":"x2","type":"quantitative","scale":{"domain":[0,1742]},"axis":null},"detail":{"field":"k"}}},
{"data":{"name":"grid"},"mark":{"type":"line","color":"#ffffff","opacity":0.2,"strokeWidth":0.9},"encoding":{"x":{"field":"x3","type":"quantitative","scale":{"domain":[0,1742]},"axis":null},"detail":{"field":"k"}}},
{"data":{"name":"stripes"},"mark":{"type":"rule","color":"#ffffff","opacity":0.2,"strokeWidth":3.8},"encoding":{"x":{"field":"x1","type":"quantitative","scale":{"domain":[0,1742]},"axis":null},"y2":{"field":"y2"}}},
{"data":{"name":"stripes"},"mark":{"type":"rule","color":"#ffffff","opacity":0.2,"strokeWidth":3.8},"encoding":{"x":{"field":"x2","type":"quantitative","scale":{"domain":[0,1742]},"axis":null},"y2":{"field":"y2"}}},
{"data":{"name":"stripes"},"mark":{"type":"rule","color":"#ffffff","opacity":0.2,"strokeWidth":3.8},"encoding":{"x":{"field":"x3","type":"quantitative","scale":{"domain":[0,1742]},"axis":null},"y2":{"field":"y2"}}},
{"data":{"name":"lines"},"mark":{"type":"rule","color":"#ffffff","opacity":0.2,"strokeWidth":0.9},"encoding":{"x":{"field":"x1","type":"quantitative","scale":{"domain":[0,1742]},"axis":null},"y2":{"field":"y2"}}},
{"data":{"name":"lines"},"mark":{"type":"rule","color":"#ffffff","opacity":0.2,"strokeWidth":0.9},"encoding":{"x":{"field":"x2","type":"quantitative","scale":{"domain":[0,1742]},"axis":null},"y2":{"field":"y2"}}},
{"data":{"name":"lines"},"mark":{"type":"rule","color":"#ffffff","opacity":0.2,"strokeWidth":0.9},"encoding":{"x":{"field":"x3","type":"quantitative","scale":{"domain":[0,1742]},"axis":null},"y2":{"field":"y2"}}},
{"data":{"name":"bar"},"mark":{"type":"rect"},"encoding":{"x":{"datum":528,"type":"quantitative","scale":{"domain":[0,1742]},"axis":null},"x2":{"datum":540},"y2":{"field":"y2"},"color":{"field":"t","type":"quantitative","legend":null,"scale":{"domain":[0,0.32,0.495,0.66,1],"range":["#0010ff","#00ffff","#00ff00","#ffff00","#ff0000"],"interpolate":"rgb"}}}},
{"data":{"name":"bar"},"mark":{"type":"rect"},"encoding":{"x":{"datum":1114,"type":"quantitative","scale":{"domain":[0,1742]},"axis":null},"x2":{"datum":1126},"y2":{"field":"y2"},"color":{"field":"t","type":"quantitative","legend":null,"scale":{"domain":[0,0.32,0.495,0.66,1],"range":["#0010ff","#00ffff","#00ff00","#ffff00","#ff0000"],"interpolate":"rgb"}}}},
{"data":{"name":"bar"},"mark":{"type":"rect"},"encoding":{"x":{"datum":1701,"type":"quantitative","scale":{"domain":[0,1742]},"axis":null},"x2":{"datum":1713},"y2":{"field":"y2"},"color":{"field":"t","type":"quantitative","legend":null,"scale":{"domain":[0,0.32,0.495,0.66,1],"range":["#0010ff","#00ffff","#00ff00","#ffff00","#ff0000"],"interpolate":"rgb"}}}},
{"data":{"name":"mono"},"mark":{"type":"text","font":"Liberation Mono","fontSize":28,"align":"left","baseline":"middle","color":"#000000"},"encoding":{"x":{"field":"x","type":"quantitative","scale":{"domain":[0,1742]},"axis":null},"text":{"field":"text"}}},
{"data":{"name":"titles"},"mark":{"type":"text","font":"Liberation Sans","fontSize":44,"align":"left","baseline":"alphabetic","color":"#000000"},"encoding":{"x":{"field":"x","type":"quantitative","scale":{"domain":[0,1742]},"axis":null},"text":{"field":"text"}}}
],
"resolve":{"scale":{"color":"independent"}}
}
